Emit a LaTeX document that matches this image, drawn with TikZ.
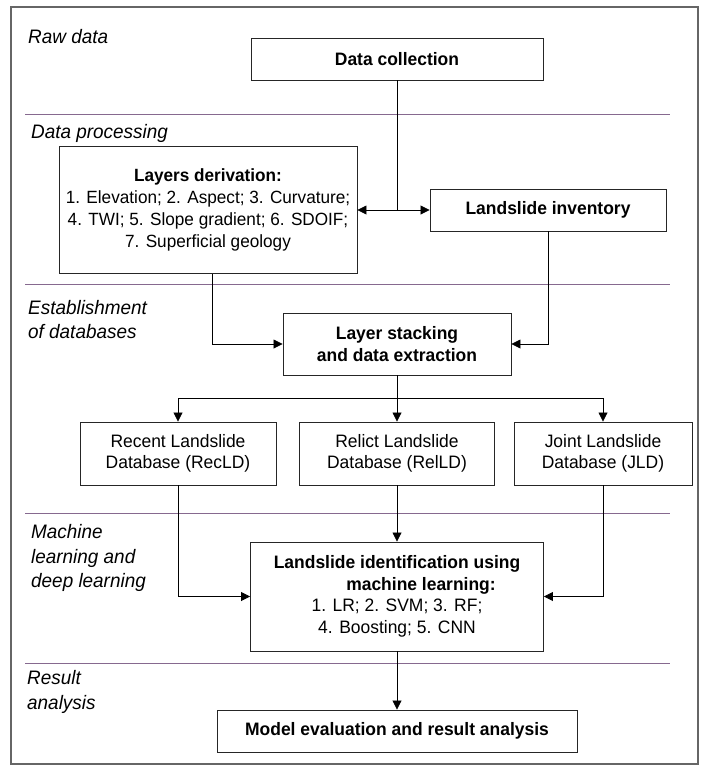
\documentclass[tikz,border=0pt]{standalone}
\usepackage{fontspec}
\setmainfont{Liberation Sans}[FakeStretch=0.97]
\usetikzlibrary{arrows.meta}
\definecolor{sepcol}{HTML}{86698F}
\tikzset{
  box/.style={draw=black!85, fill=white, line width=0.9pt, align=center, inner sep=0pt,
    font=\fontsize{18}{21.5}\selectfont},
  lbl/.style={anchor=west, align=left, inner sep=0pt, font=\fontsize{19.5}{24.5}\selectfont\itshape},
  conn/.style={line width=0.8pt, black},
  arr/.style={conn, -{Triangle[length=9pt,width=9pt]}},
  sep/.style={sepcol, line width=0.8pt}
}
\begin{document}
\begin{tikzpicture}[x=1pt,y=-1pt]
\useasboundingbox (0,0) rectangle (709,768);
\draw[black!60, line width=1.3pt] (11,7) rectangle (698,764);
% separators
\draw[sep] (25,114) -- (670,114);
\draw[sep] (25,284) -- (670,284);
\draw[sep] (25,513) -- (670,513);
\draw[sep] (25,663) -- (670,663);
% section labels
\node[lbl] (l1) at (28,37) {Raw data};
\node[lbl] (l2) at (31,133) {Data processing};
\node[lbl] (l3) at (28,319.5) {Establishment\\of databases};
\node[lbl] (l4) at (31,558) {Machine\\learning and\\deep learning};
\node[lbl] (l5) at (27,692) {Result\\analysis};
% boxes
\node[box, minimum width=292pt, minimum height=42pt] (dc) at (397,59) {\textbf{Data collection}};
\node[box, minimum width=298pt, minimum height=127pt, font=\fontsize{17.7}{22}\selectfont] (lay) at (208,210) {\textbf{Layers derivation:}\\1. Elevation; 2. Aspect; 3. Curvature;\\4. TWI; 5. Slope gradient; 6. SDOIF;\\7. Superficial geology};
\node[box, minimum width=236pt, minimum height=42pt] (inv) at (548,210) {\textbf{Landslide inventory}};
\node[box, minimum width=228pt, minimum height=62pt] (stk) at (397,344) {\textbf{Layer stacking}\\\textbf{and data extraction}};
\node[box, minimum width=196pt, minimum height=63pt] (rec) at (178,453.5) {Recent Landslide\\Database (RecLD)};
\node[box, minimum width=195pt, minimum height=63pt] (rel) at (397,453.5) {Relict Landslide\\Database (RelLD)};
\node[box, minimum width=178pt, minimum height=63pt] (jnt) at (603,453.5) {Joint Landslide\\Database (JLD)};
\node[box, minimum width=293pt, minimum height=109pt] (ml) at (397,596.5) {\textbf{Landslide identification using}\\\hspace*{48pt}\textbf{machine learning:}\\1. LR; 2. SVM; 3. RF;\\4. Boosting; 5. CNN};
\node[box, minimum width=360pt, minimum height=42pt] (mod) at (397,731) {\textbf{Model evaluation and result analysis}};
% connectors
\coordinate (j1) at (397,210);
\coordinate (j2) at (397,398);
\coordinate (lx) at (212,0);
\draw[conn] (dc.south) -- (j1);
\draw[conn, {Triangle[length=9pt,width=9pt]}-{Triangle[length=9pt,width=9pt]}] (lay.east) -- (inv.west);
\draw[arr] (lay.south -| lx) |- (stk.west);
\draw[arr] (inv.south) |- (stk.east);
\draw[conn] (stk.south) -- (j2);
\draw[arr] (j2) -| (rec.north);
\draw[arr] (j2) -- (rel.north);
\draw[arr] (j2) -| (jnt.north);
\draw[arr] (rec.south) |- (ml.west);
\draw[arr] (rel.south) -- (ml.north);
\draw[arr] (jnt.south) |- (ml.east);
\draw[arr] (ml.south) -- (mod.north);
\end{tikzpicture}
\end{document}
